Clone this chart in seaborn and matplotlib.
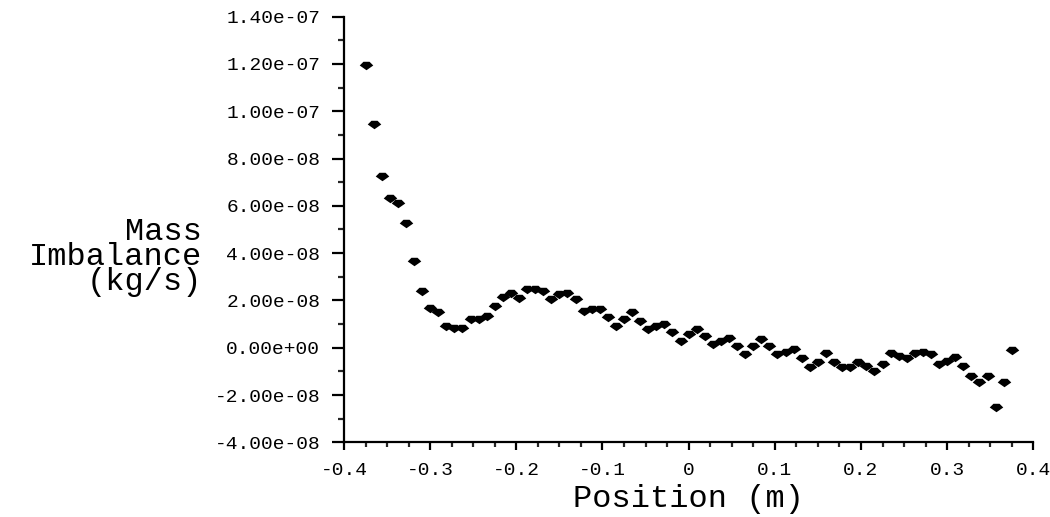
import matplotlib
matplotlib.use("Agg")
import matplotlib.pyplot as plt
import seaborn as sns
import pandas as pd
from matplotlib.ticker import FuncFormatter, MultipleLocator
from matplotlib.path import Path

# ---- data ----
position = [-0.3750, -0.3656, -0.3563, -0.3469, -0.3375, -0.3281, -0.3188, -0.3094, -0.3000,
            -0.2906, -0.2813, -0.2719, -0.2625, -0.2531, -0.2438, -0.2344, -0.2250, -0.2156,
            -0.2063, -0.1969, -0.1875, -0.1781, -0.1688, -0.1594, -0.1500, -0.1406, -0.1313,
            -0.1219, -0.1125, -0.1031, -0.0938, -0.0844, -0.0750, -0.0656, -0.0563, -0.0469,
            -0.0375, -0.0281, -0.0188, -0.0094, 0.0000, 0.0094, 0.0188, 0.0281, 0.0375,
            0.0469, 0.0563, 0.0656, 0.0750, 0.0844, 0.0938, 0.1031, 0.1125, 0.1219,
            0.1313, 0.1406, 0.1500, 0.1594, 0.1688, 0.1781, 0.1875, 0.1969, 0.2063,
            0.2156, 0.2250, 0.2344, 0.2438, 0.2531, 0.2625, 0.2719, 0.2813, 0.2906,
            0.3000, 0.3094, 0.3188, 0.3281, 0.3375, 0.3469, 0.3563, 0.3656, 0.3750]

imbalance_e8 = [11.97, 9.48, 7.26, 6.32, 6.13, 5.29, 3.67, 2.38, 1.70,
                1.53, 0.93, 0.83, 0.83, 1.21, 1.21, 1.35, 1.77, 2.15,
                2.31, 2.12, 2.48, 2.48, 2.41, 2.05, 2.27, 2.33, 2.05,
                1.56, 1.63, 1.63, 1.28, 0.93, 1.21, 1.49, 1.14, 0.79,
                0.93, 1.00, 0.65, 0.30, 0.58, 0.79, 0.51, 0.16, 0.30,
                0.43, 0.08, -0.27, 0.08, 0.37, 0.08, -0.27, -0.20, -0.05,
                -0.43, -0.80, -0.62, -0.24, -0.59, -0.80, -0.80, -0.59, -0.76,
                -0.97, -0.69, -0.24, -0.34, -0.43, -0.24, -0.16, -0.27, -0.69,
                -0.55, -0.41, -0.76, -1.18, -1.46, -1.18, -2.49, -1.46, -0.08]

x_ticks = [-0.4, -0.3, -0.2, -0.1, 0.0, 0.1, 0.2, 0.3, 0.4]
y_ticks = [-4e-8, -2e-8, 0.0, 2e-8, 4e-8, 6e-8, 8e-8, 1e-7, 1.2e-7, 1.4e-7]

df = pd.DataFrame({"Position": position,
                   "Imbalance": [v * 1e-8 for v in imbalance_e8]})

# ---- style ----
sns.set_style("ticks")
plt.rcParams["font.family"] = ["Liberation Mono", "DejaVu Sans Mono"]

fig = plt.figure(figsize=(10.5, 5.17), dpi=100)
ax = fig.add_axes([0.3276, 0.1445, 0.6565, 0.8232])

diamond = Path([(-1.0, 0.0), (-0.45, 0.55), (0.45, 0.55), (1.0, 0.0), (0.0, -0.7), (-1.0, 0.0)],
               [Path.MOVETO, Path.LINETO, Path.LINETO, Path.LINETO, Path.LINETO, Path.CLOSEPOLY])

sns.scatterplot(data=df, x="Position", y="Imbalance", ax=ax, color="black",
                marker=diamond, s=95, linewidth=0, legend=False)

ax.set_xlim(-0.4, 0.4)
ax.set_ylim(-4e-8, 1.4e-7)
ax.set_xticks(x_ticks)
ax.set_yticks(y_ticks)
ax.xaxis.set_minor_locator(MultipleLocator(0.025))
ax.yaxis.set_minor_locator(MultipleLocator(1e-8))

ax.xaxis.set_major_formatter(FuncFormatter(lambda v, p: "0" if abs(v) < 1e-9 else f"{v:.1f}"))
ax.yaxis.set_major_formatter(FuncFormatter(lambda v, p: f"{v:.2e}"))

for side in ["top", "right"]:
    ax.spines[side].set_visible(False)
for side in ["left", "bottom"]:
    ax.spines[side].set_linewidth(1.6)
    ax.spines[side].set_color("black")

ax.tick_params(axis="y", which="major", direction="out", length=8.5, width=1.6,
               pad=8.5, labelsize=14, colors="black")
ax.tick_params(axis="y", which="minor", direction="out", length=4.5, width=1.6)
ax.tick_params(axis="x", which="major", direction="out", length=6, width=1.6,
               pad=8, labelsize=14, colors="black")
ax.tick_params(axis="x", which="minor", direction="out", length=3.5, width=1.6)

ax.set_xlabel("Position (m)", fontsize=23, labelpad=4, color="black")
ax.set_ylabel("Mass\nImbalance\n(kg/s)", fontsize=23, rotation=0, ha="right",
              va="center", multialignment="right", linespacing=0.78, color="black")
ax.yaxis.set_label_coords(-0.206, 0.435)

ax.grid(False)
fig.savefig("out.png", dpi=100, facecolor="white")
